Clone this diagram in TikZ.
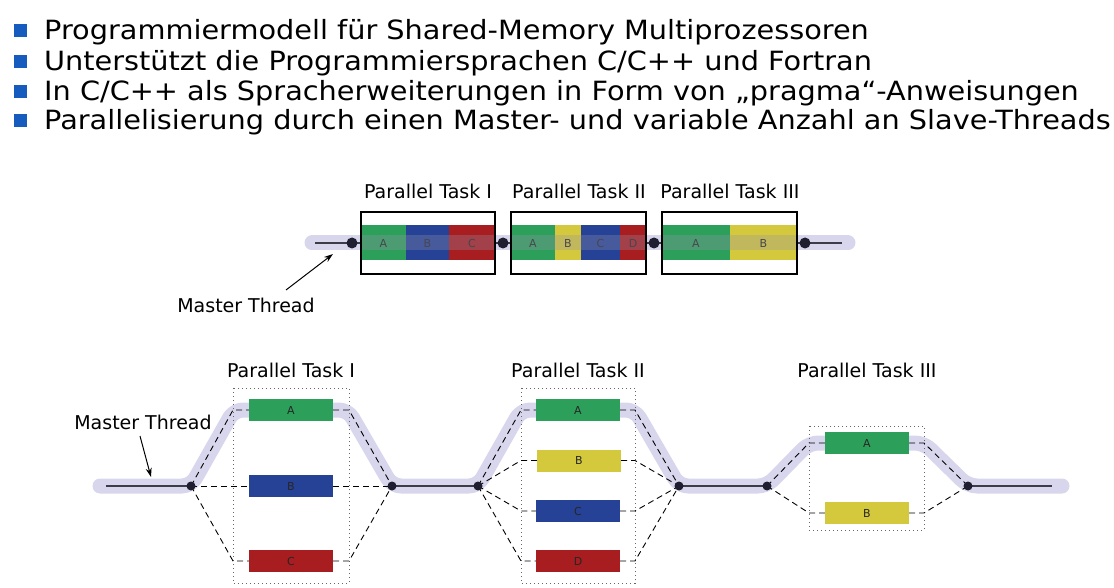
\documentclass[tikz,border=0pt]{standalone}
\usepackage{fontspec}
\setmainfont{DejaVu Sans}
\newfontfamily\bulfont[FakeStretch=1.085]{DejaVu Sans}
\usetikzlibrary{arrows.meta}
\definecolor{tgreen}{RGB}{44,160,90}
\definecolor{tblue}{RGB}{38,66,150}
\definecolor{tred}{RGB}{168,30,32}
\definecolor{tyellow}{RGB}{212,200,60}
\definecolor{lav}{RGB}{216,214,236}
\definecolor{band}{RGB}{150,146,172}
\definecolor{dotc}{RGB}{30,30,48}
\definecolor{bulc}{RGB}{22,92,190}
\definecolor{thinc}{RGB}{60,60,72}
\begin{document}
\begin{tikzpicture}[x=1pt,y=-1pt,
  bullet/.style={fill=bulc,minimum size=13pt,inner sep=0pt},
  btext/.style={font=\bulfont\fontsize{26.5}{30}\selectfont,anchor=base west,inner sep=0pt},
  tlabel/.style={font=\fontsize{19}{22}\selectfont,inner sep=0pt},
  bar/.style={minimum height=35pt,inner sep=0pt,font=\fontsize{11}{13}\selectfont,text=black!85},
  tbox/.style={minimum width=84pt,minimum height=22pt,inner sep=0pt,font=\fontsize{11}{13}\selectfont,text=black!85},
  thread/.style={line width=15pt,color=lav,line cap=round,line join=round,rounded corners=9pt},
  thinline/.style={line width=1.2pt,color=thinc},
  forkdot/.style={circle,fill=dotc,inner sep=0pt,minimum size=9pt},
  bigdot/.style={circle,fill=dotc,inner sep=0pt,minimum size=11pt},
  dashline/.style={line width=0.9pt,dash pattern=on 6pt off 4pt},
  group/.style={draw=black!60,line width=0.9pt,dash pattern=on 1pt off 3pt},
  bandline/.style={line width=15pt,color=band,opacity=0.3},
  arr/.style={-{Stealth[length=9pt,width=6pt]},line width=1pt}]
\useasboundingbox (0,0) rectangle (1114,588);

% ---------- bullet list ----------
\node[bullet] (q1) at (20.5,31) {};
\node[bullet] (q2) at (20.5,61.5) {};
\node[bullet] (q3) at (20.5,91.5) {};
\node[bullet] (q4) at (20.5,121) {};
\node[btext] (t1) at (44,40) {Programmiermodell für Shared-Memory Multiprozessoren};
\node[btext] (t2) at (44,70.5) {Unterstützt die Programmiersprachen C/C++ und Fortran};
\node[btext] (t3) at (44,100.5) {In C/C++ als Spracherweiterungen in Form von „pragma“-Anweisungen};
\node[btext] (t4) at (44,130) {Parallelisierung durch einen Master- und variable Anzahl an Slave-Threads};

% ---------- top (sequential) diagram ----------
\coordinate (s0) at (312,243);
\coordinate (s1) at (848,243);
\coordinate (k0) at (315,243);
\coordinate (k1) at (842,243);
\draw[line width=15pt,color=lav,line cap=round] (s0) -- (s1);
\draw[thinline] (k0) -- (k1);
% bars
\node[bar,fill=tgreen,minimum width=45pt] (pa1) at (383.5,243) {A};
\node[bar,fill=tblue,minimum width=43pt] (pb1) at (427.5,243) {B};
\node[bar,fill=tred,minimum width=46pt] (pc1) at (472,243) {C};
\node[bar,fill=tgreen,minimum width=44pt] (pa2) at (533,243) {A};
\node[bar,fill=tyellow,minimum width=26pt] (pb2) at (568,243) {B};
\node[bar,fill=tblue,minimum width=39pt] (pc2) at (600.5,243) {C};
\node[bar,fill=tred,minimum width=26pt] (pd2) at (633,243) {D};
\node[bar,fill=tgreen,minimum width=68pt] (pa3) at (696,243) {A};
\node[bar,fill=tyellow,minimum width=67pt] (pb3) at (763.5,243) {B};
\draw[bandline] (pa1.west) -- (pc1.east);
\draw[bandline] (pa2.west) -- (pd2.east);
\draw[bandline] (pa3.west) -- (pb3.east);
% frames
\draw[line width=1.2pt] (361,212) rectangle (495,274);
\draw[line width=1.2pt] (511,212) rectangle (646,274);
\draw[line width=1.2pt] (662,212) rectangle (797,274);
\node[bigdot] (d1) at (352,243) {};
\node[bigdot] (d2) at (503,243) {};
\node[bigdot] (d3) at (654,243) {};
\node[bigdot] (d4) at (805,243) {};
\node[tlabel] (pt1) at (428,191) {Parallel Task I};
\node[tlabel] (pt2) at (579,191) {Parallel Task II};
\node[tlabel] (pt3) at (730,191) {Parallel Task III};
\node[tlabel] (mt1) at (246,305) {Master Thread};
\coordinate (mt1tail) at (286,290);
\coordinate (mt1tip) at (333,254);
\draw[arr] (mt1tail) -- (mt1tip);

% ---------- bottom (fork/join) diagram ----------
\coordinate (g0) at (100,486);
\coordinate (F1) at (191,486);
\coordinate (J1) at (392,486);
\coordinate (F2) at (478,486);
\coordinate (J2) at (679,486);
\coordinate (F3) at (767,486);
\coordinate (J3) at (968,486);
\coordinate (g1) at (1062,486);
\draw[thread] (g0) -- (F1) -- (234,410) -- (348,410) -- (J1) -- (F2) -- (521,410) -- (635,410) -- (J2) -- (F3) -- (809,443) -- (924,443) -- (J3) -- (g1);
\draw[thinline] (106,486) -- (F1);
\draw[thinline] (J1) -- (F2);
\draw[thinline] (J2) -- (F3);
\draw[thinline] (J3) -- (1052,486);

% groups
\draw[group] (233,388) rectangle (349,583);
\draw[group] (521,388) rectangle (635,583);
\draw[group] (809,426) rectangle (924,530);

% task I
\node[tbox,fill=tgreen] (a1) at (291,410) {A};
\node[tbox,fill=tblue] (b1) at (291,486) {B};
\node[tbox,fill=tred] (c1) at (291,561) {C};
\draw[dashline] (F1) -- (233,410) -- (a1.west);
\draw[dashline] (a1.east) -- (349,410) -- (J1);
\draw[dashline] (F1) -- (b1.west);
\draw[dashline] (b1.east) -- (J1);
\draw[dashline] (F1) -- (233,561) -- (c1.west);
\draw[dashline] (c1.east) -- (349,561) -- (J1);

% task II
\node[tbox,fill=tgreen] (a2) at (578,410) {A};
\node[tbox,fill=tyellow] (b2) at (579,460.5) {B};
\node[tbox,fill=tblue] (c2) at (578,511) {C};
\node[tbox,fill=tred] (d2b) at (578,561) {D};
\draw[dashline] (F2) -- (521,410) -- (a2.west);
\draw[dashline] (a2.east) -- (635,410) -- (J2);
\draw[dashline] (F2) -- (521,460.5) -- (b2.west);
\draw[dashline] (b2.east) -- (635,460.5) -- (J2);
\draw[dashline] (F2) -- (521,511) -- (c2.west);
\draw[dashline] (c2.east) -- (635,511) -- (J2);
\draw[dashline] (F2) -- (521,561) -- (d2b.west);
\draw[dashline] (d2b.east) -- (635,561) -- (J2);

% task III
\node[tbox,fill=tgreen] (a3) at (867,443) {A};
\node[tbox,fill=tyellow] (b3) at (867,513) {B};
\draw[dashline] (F3) -- (809,443) -- (a3.west);
\draw[dashline] (a3.east) -- (924,443) -- (J3);
\draw[dashline] (F3) -- (809,513) -- (b3.west);
\draw[dashline] (b3.east) -- (924,513) -- (J3);

\foreach \p in {F1,J1,F2,J2,F3,J3} \node[forkdot] at (\p) {};

\node[tlabel] (lt1) at (291,370) {Parallel Task I};
\node[tlabel] (lt2) at (578,370) {Parallel Task II};
\node[tlabel] (lt3) at (867,370) {Parallel Task III};
\node[tlabel] (mt2) at (143,422) {Master Thread};
\coordinate (mt2tail) at (140,436);
\coordinate (mt2tip) at (151,477);
\draw[arr] (mt2tail) -- (mt2tip);
\end{tikzpicture}
\end{document}
